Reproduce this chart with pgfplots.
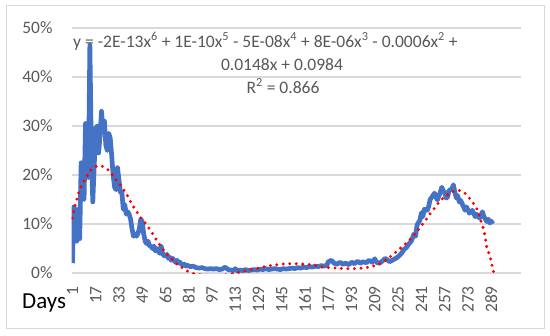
\documentclass[border=0pt]{standalone}
\usepackage{pgfplots}
\pgfplotsset{compat=1.18}
\usepackage{fontspec}
\setmainfont{Carlito}
\definecolor{exblue}{HTML}{4472C4}
\definecolor{exgrid}{HTML}{D9D9D9}
\definecolor{extext}{HTML}{595959}
\pgfplotstableread{
d v
1 2
2 13.5
3 12
4 6.5
5 13
6 7
7 22.5
8 16
9 15
10 30.5
11 28
12 19.5
13 46.5
14 25
15 14.5
16 22
17 29.5
18 30
19 24.5
20 28
21 33
22 29
23 31
24 26
25 25
26 28.5
27 27.5
28 24
29 20
30 17.5
31 17
32 21.5
33 19
34 16.5
35 16.5
36 13
37 14
38 12
39 12.5
40 12
41 11
42 9
43 7.5
44 8
45 7.5
46 8
47 9
48 11
49 10.5
50 8
51 6.5
52 6
53 6.5
54 5.5
55 5.5
56 5
57 5.5
58 4.5
59 5
60 4.5
61 4
62 5.5
63 4
64 3.5
65 3.5
66 3.8
67 3
68 3.2
69 2.6
70 3
71 2.5
72 2.2
73 2.6
74 2
75 2.2
76 1.8
77 1.6
78 1.8
79 1.4
80 1.6
82 1.3
84 1.4
86 1.1
88 1.0
90 1.1
92 0.9
94 0.8
96 0.9
98 0.8
100 0.9
102 0.7
104 0.8
106 1.2
108 0.7
110 0.6
112 0.5
113 0.9
114 0.4
116 0.6
118 0.5
120 0.7
122 0.5
124 0.6
126 0.7
128 0.6
130 0.8
132 0.7
134 0.9
136 0.7
138 0.8
140 0.9
142 0.8
144 0.7
146 0.9
148 0.8
150 0.9
152 1.0
154 0.9
156 1.1
158 1.0
160 1.2
162 1.1
164 1.3
166 1.2
168 1.4
170 1.3
172 1.5
174 1.4
176 1.6
177 2.3
179 2.6
181 2.0
183 1.8
185 2.2
187 1.8
189 2.0
191 1.7
193 2.2
195 1.9
197 2.4
199 2.0
201 2.3
203 2.1
205 2.6
207 2.2
209 2.9
210 2.2
212 2.0
214 2.4
216 3.0
218 2.6
219 2.3
221 2.6
224 3.1
226 3.6
228 4.3
229 4.8
231 5.3
232 5.8
234 6.5
236 8.0
237 7.5
238 9.8
240 10.8
241 12.3
242 11.5
243 13.0
245 12.8
246 13.6
247 15.0
248 15.4
250 16.3
251 15.5
252 14.9
254 16.5
255 17.5
256 16.8
257 16.4
258 15.3
259 15.5
260 16.8
262 17.2
263 18.0
264 16.5
265 15.3
266 15.8
267 14.5
268 14.8
270 13.5
271 12.8
272 13.5
274 12.2
276 12.8
278 11.5
279 12.0
281 11.2
282 11.8
283 12.5
284 11.5
286 10.5
287 11.0
288 10.2
289 10.6
290 10.0
}\bluedata
\pgfplotstableread{
d v
1 11.2
2 12.8
4 15
6 17
8 18.2
10 19.3
13 20.8
16 21.6
20 21.9
24 21.4
27 20.6
30 19.4
33 18.3
36 17.1
39 15.7
42 14
45 12.6
48 11.3
51 10.2
54 9
57 7.6
60 6.2
63 4.9
66 3.8
69 3
72 2
75 1.4
79 0.6
82 0.1
86 -0.2
90 -0.4
95 -0.5
100 -0.5
105 -0.4
110 -0.2
115 0.1
120 0.4
124 0.7
129 1
133 1.3
139 1.6
145 1.8
152 1.9
160 1.8
165 1.7
171 1.3
177 1.1
183 1
190 0.9
196 0.9
203 1.1
210 1.6
215 2.3
219 3.2
224 4.4
229 5.7
233 6.8
237 8.1
240 9.3
244 10.8
247 12.1
251 13.6
254 14.8
258 15.7
262 16.5
266 16.9
269 16.7
272 16
275 14.9
278 13.7
280 12.5
282 10.5
284 8.7
285 7
286 5.2
288 3.6
289 2.2
290 1
291 -0.2
}\trenddata
\begin{document}
\begin{tikzpicture}[x=1bp,y=1bp]
\useasboundingbox (-71.7,-62) rectangle (478.3,273);
\fill[white] (-71.7,-62) rectangle (478.3,273);
\draw[exgrid, line width=0.8bp] (-65.7,-55) rectangle (472.3,268);
\begin{axis}[
  scale only axis, width=449.3bp, height=245bp,
  at={(0,0)}, anchor=south west,
  xmin=0.5, xmax=309.5, ymin=0, ymax=50,
  axis line style={draw=none},
  major tick length=0pt,
  ymajorgrids, grid style={exgrid, line width=1.2bp},
  ytick={0,10,20,30,40,50},
  yticklabels={0\%,10\%,20\%,30\%,40\%,50\%},
  xtick={1,17,33,49,65,81,97,113,129,145,161,177,193,209,225,241,257,273,289},
  xticklabels={1,17,33,49,65,81,97,113,129,145,161,177,193,209,225,241,257,273,289},
  yticklabel style={font=\fontsize{17.5}{20}\selectfont, text=extext, anchor=east, inner sep=0pt},
  yticklabel shift=19bp,
  xticklabel style={font=\fontsize{17.5}{20}\selectfont, text=extext, rotate=90, anchor=east, inner sep=0pt},
  xticklabel shift=13bp,
]
\addplot[exblue, line width=4.7bp, line join=round] table[x=d,y=v] {\bluedata};
\addplot[red, line width=3.3bp, line cap=round, dash pattern=on 0pt off 6.5bp, smooth] table[x=d,y=v] {\trenddata};
\end{axis}
\begin{scope}[every node/.style={text=extext, font=\fontsize{17.6}{20}\selectfont, inner sep=0pt}]
\node[anchor=base west] at (1.3,226) {y = -2E-13x\textsuperscript{6} + 1E-10x\textsuperscript{5} - 5E-08x\textsuperscript{4} + 8E-06x\textsuperscript{3} - 0.0006x\textsuperscript{2} +};
\node[anchor=base] at (210.3,203) {0.0148x + 0.0984};
\node[anchor=base] at (211.3,180) {R\textsuperscript{2} = 0.866};
\end{scope}
\node[anchor=base west, inner sep=0pt, font=\fontsize{23}{26}\selectfont] at (-49.7,-35) {Days};
\end{tikzpicture}
\end{document}
